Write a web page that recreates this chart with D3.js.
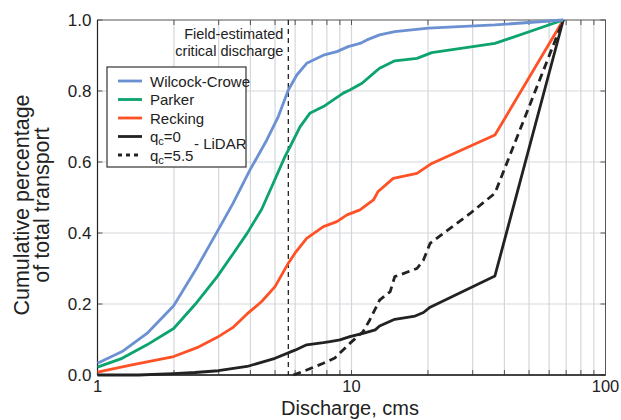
<!DOCTYPE html>
<html><head><meta charset="utf-8">
<script src="https://cdn.jsdelivr.net/npm/d3@7"></script>
<style>body{margin:0;background:#fff}svg{display:block;font-family:"Liberation Sans",Arial,sans-serif}</style>
</head><body><svg id="c" width="621" height="420"></svg>
<script>
const wilcockX = [1,1.25,1.566,1.995,2.465,2.96,3.42,3.98,4.64,5.15,5.64,6.09,6.66,7.75,8.76,9.7,10.8,11.5,12.9,14.8,20.1,36.7,68.2];
const wilcockY = [0.033,0.066,0.117,0.195,0.303,0.404,0.484,0.577,0.662,0.728,0.803,0.845,0.878,0.901,0.911,0.925,0.934,0.944,0.958,0.967,0.977,0.986,1.0];
const parkerX = [1,1.25,1.566,1.995,2.465,2.96,3.43,3.88,4.43,4.92,5.47,5.73,6.27,6.85,7.75,8.48,9.28,9.85,11.0,12.4,12.9,14.8,18.1,20.7,36.7,68.2];
const parkerY = [0.022,0.047,0.085,0.131,0.205,0.277,0.343,0.399,0.467,0.54,0.615,0.643,0.699,0.737,0.756,0.775,0.794,0.803,0.822,0.854,0.864,0.885,0.892,0.908,0.934,1.0];
const reckingX = [1,1.35,1.995,2.465,2.96,3.43,3.88,4.43,5.0,5.64,5.99,6.66,7.75,8.76,9.6,10.8,12.2,12.7,14.6,18.1,20.7,36.7,68.2];
const reckingY = [0.008,0.028,0.052,0.077,0.106,0.135,0.172,0.207,0.249,0.315,0.343,0.385,0.418,0.432,0.451,0.465,0.493,0.516,0.554,0.568,0.596,0.676,1.0];
const q0X = [1,1.45,1.99,2.42,2.99,3.88,5.0,5.99,6.66,7.75,8.23,9.0,9.85,11.1,12.4,12.9,14.8,17.8,19.2,20.4,36.7,68.2];
const q0Y = [0,0,0.004,0.007,0.012,0.024,0.047,0.070,0.085,0.091,0.094,0.099,0.108,0.117,0.127,0.138,0.157,0.166,0.176,0.191,0.279,1.0];
const q55X = [5.9,6.66,7.75,8.6,9.85,11.1,11.8,12.9,14.2,14.8,15.5,18.1,19.2,20.4,23.0,29.3,36.7,68.2];
const q55Y = [0,0.014,0.033,0.048,0.089,0.122,0.155,0.211,0.235,0.277,0.282,0.30,0.324,0.371,0.399,0.455,0.512,1.0];
const yTicks = [0,0.2,0.4,0.6,0.8,1.0];
const xTickLabels = [1,10,100];
const criticalQ = 5.64;

const svg = d3.select("#c");
const L=97.5, R=605.5, T=20, B=375;
const x = d3.scaleLog().domain([1,100]).range([L,R]);
const y = d3.scaleLinear().domain([0,1]).range([B,T]);

// grid
const minor = [];
for (let d of [1,10]) for (let k=1;k<=9;k++) minor.push(d*k);
minor.push(100);
const g = svg.append("g");
g.selectAll(".vg").data(minor.filter(v=>v>1&&v<100)).join("line")
  .attr("x1",d=>x(d)).attr("x2",d=>x(d)).attr("y1",T).attr("y2",B)
  .attr("stroke","#d3d7dc").attr("stroke-width",1.2);
g.selectAll(".hg").data(yTicks.filter(v=>v>0&&v<1)).join("line")
  .attr("x1",L).attr("x2",R).attr("y1",d=>y(d)).attr("y2",d=>y(d))
  .attr("stroke","#d3d7dc").attr("stroke-width",1.2);

// inner ticks
const tk = svg.append("g").attr("stroke","#555").attr("stroke-width",1);
minor.forEach(v=>{
  tk.append("line").attr("x1",x(v)).attr("x2",x(v)).attr("y1",T).attr("y2",T+5);
  tk.append("line").attr("x1",x(v)).attr("x2",x(v)).attr("y1",B).attr("y2",B-5);
});
yTicks.forEach(v=>{
  tk.append("line").attr("x1",L).attr("x2",L+5).attr("y1",y(v)).attr("y2",y(v));
  tk.append("line").attr("x1",R).attr("x2",R-5).attr("y1",y(v)).attr("y2",y(v));
});
svg.append("rect").attr("x",L).attr("y",T).attr("width",R-L).attr("height",B-T)
  .attr("fill","none").attr("stroke","#555").attr("stroke-width",1);
svg.append("line").attr("x1",L).attr("x2",R).attr("y1",B).attr("y2",B).attr("stroke","#222").attr("stroke-width",1.5);
svg.append("line").attr("x1",L).attr("x2",L).attr("y1",T).attr("y2",B).attr("stroke","#222").attr("stroke-width",1.2);

// tick labels
svg.selectAll(".yl").data(yTicks).join("text")
  .attr("x",L-6).attr("y",d=>y(d)+6).attr("text-anchor","end")
  .attr("font-size",17).attr("fill","#222").text(d=>d.toFixed(1));
svg.selectAll(".xl").data(xTickLabels).join("text")
  .attr("x",d=>x(d)).attr("y",B+17).attr("text-anchor","middle")
  .attr("font-size",16.5).attr("fill","#222").text(d=>d);

// axis titles
svg.append("text").attr("x",350).attr("y",415).attr("text-anchor","middle")
  .attr("font-size",20).attr("fill","#222").text("Discharge, cms");
const yt = svg.append("text").attr("transform","translate(29,205) rotate(-90)")
  .attr("text-anchor","middle").attr("font-size",21.5).attr("fill","#222");
yt.append("tspan").attr("x",0).attr("dy",0).text("Cumulative percentage");
yt.append("tspan").attr("x",0).attr("dy",20).text("of total transport");

// critical discharge
svg.append("line").attr("x1",x(criticalQ)).attr("x2",x(criticalQ)).attr("y1",T).attr("y2",B)
  .attr("stroke","#222").attr("stroke-width",1.3).attr("stroke-dasharray","5,4");
svg.append("text").attr("x",x(criticalQ)-5).attr("y",38.5).attr("text-anchor","end")
  .attr("font-size",14.5).attr("fill","#222").text("Field-estimated");
svg.append("text").attr("x",x(criticalQ)-5).attr("y",55.5).attr("text-anchor","end")
  .attr("font-size",14.5).attr("fill","#222").text("critical discharge");

// series
const line = d3.line().x(d=>x(d[0])).y(d=>y(d[1]));
const series = [
  {X:reckingX,Y:reckingY,c:"#ff5126",dash:null},
  {X:q0X,Y:q0Y,c:"#222",dash:null},
  {X:q55X,Y:q55Y,c:"#222",dash:"8,5"},
  {X:parkerX,Y:parkerY,c:"#0ca36d",dash:null},
  {X:wilcockX,Y:wilcockY,c:"#6b91d2",dash:null},
];
series.forEach(s=>{
  svg.append("path").datum(s.X.map((v,i)=>[v,s.Y[i]])).attr("d",line)
    .attr("fill","none").attr("stroke",s.c).attr("stroke-width",2.8)
    .attr("stroke-dasharray",s.dash).attr("stroke-linejoin","round");
});

// legend
const lg = svg.append("g");
lg.append("rect").attr("x",107).attr("y",67).attr("width",139).attr("height",100)
  .attr("fill","#fff").attr("stroke","#333").attr("stroke-width",1.2);
const leg = [
  {t:"Wilcock-Crowe",c:"#6b91d2",d:null},
  {t:"Parker",c:"#0ca36d",d:null},
  {t:"Recking",c:"#ff5126",d:null},
  {t:"q|0",c:"#222",d:null},
  {t:"q|5.5",c:"#222",d:"4,4"},
];
leg.forEach((e,i)=>{
  const yy = 81+i*18.5;
  lg.append("line").attr("x1",118).attr("x2",142).attr("y1",yy).attr("y2",yy)
    .attr("stroke",e.c).attr("stroke-width",2.8).attr("stroke-dasharray",e.d);
  const t = lg.append("text").attr("x",150).attr("y",yy+5.5).attr("font-size",15).attr("fill","#222");
  if (e.t.startsWith("q|")) {
    t.append("tspan").text("q");
    t.append("tspan").attr("font-size",11).attr("dy",3).text("c");
    t.append("tspan").attr("dy",-3).text("="+e.t.split("|")[1]);
  } else t.text(e.t);
});
lg.append("text").attr("x",194).attr("y",149).attr("font-size",15).attr("fill","#222").text("- LiDAR");
</script></body></html>
